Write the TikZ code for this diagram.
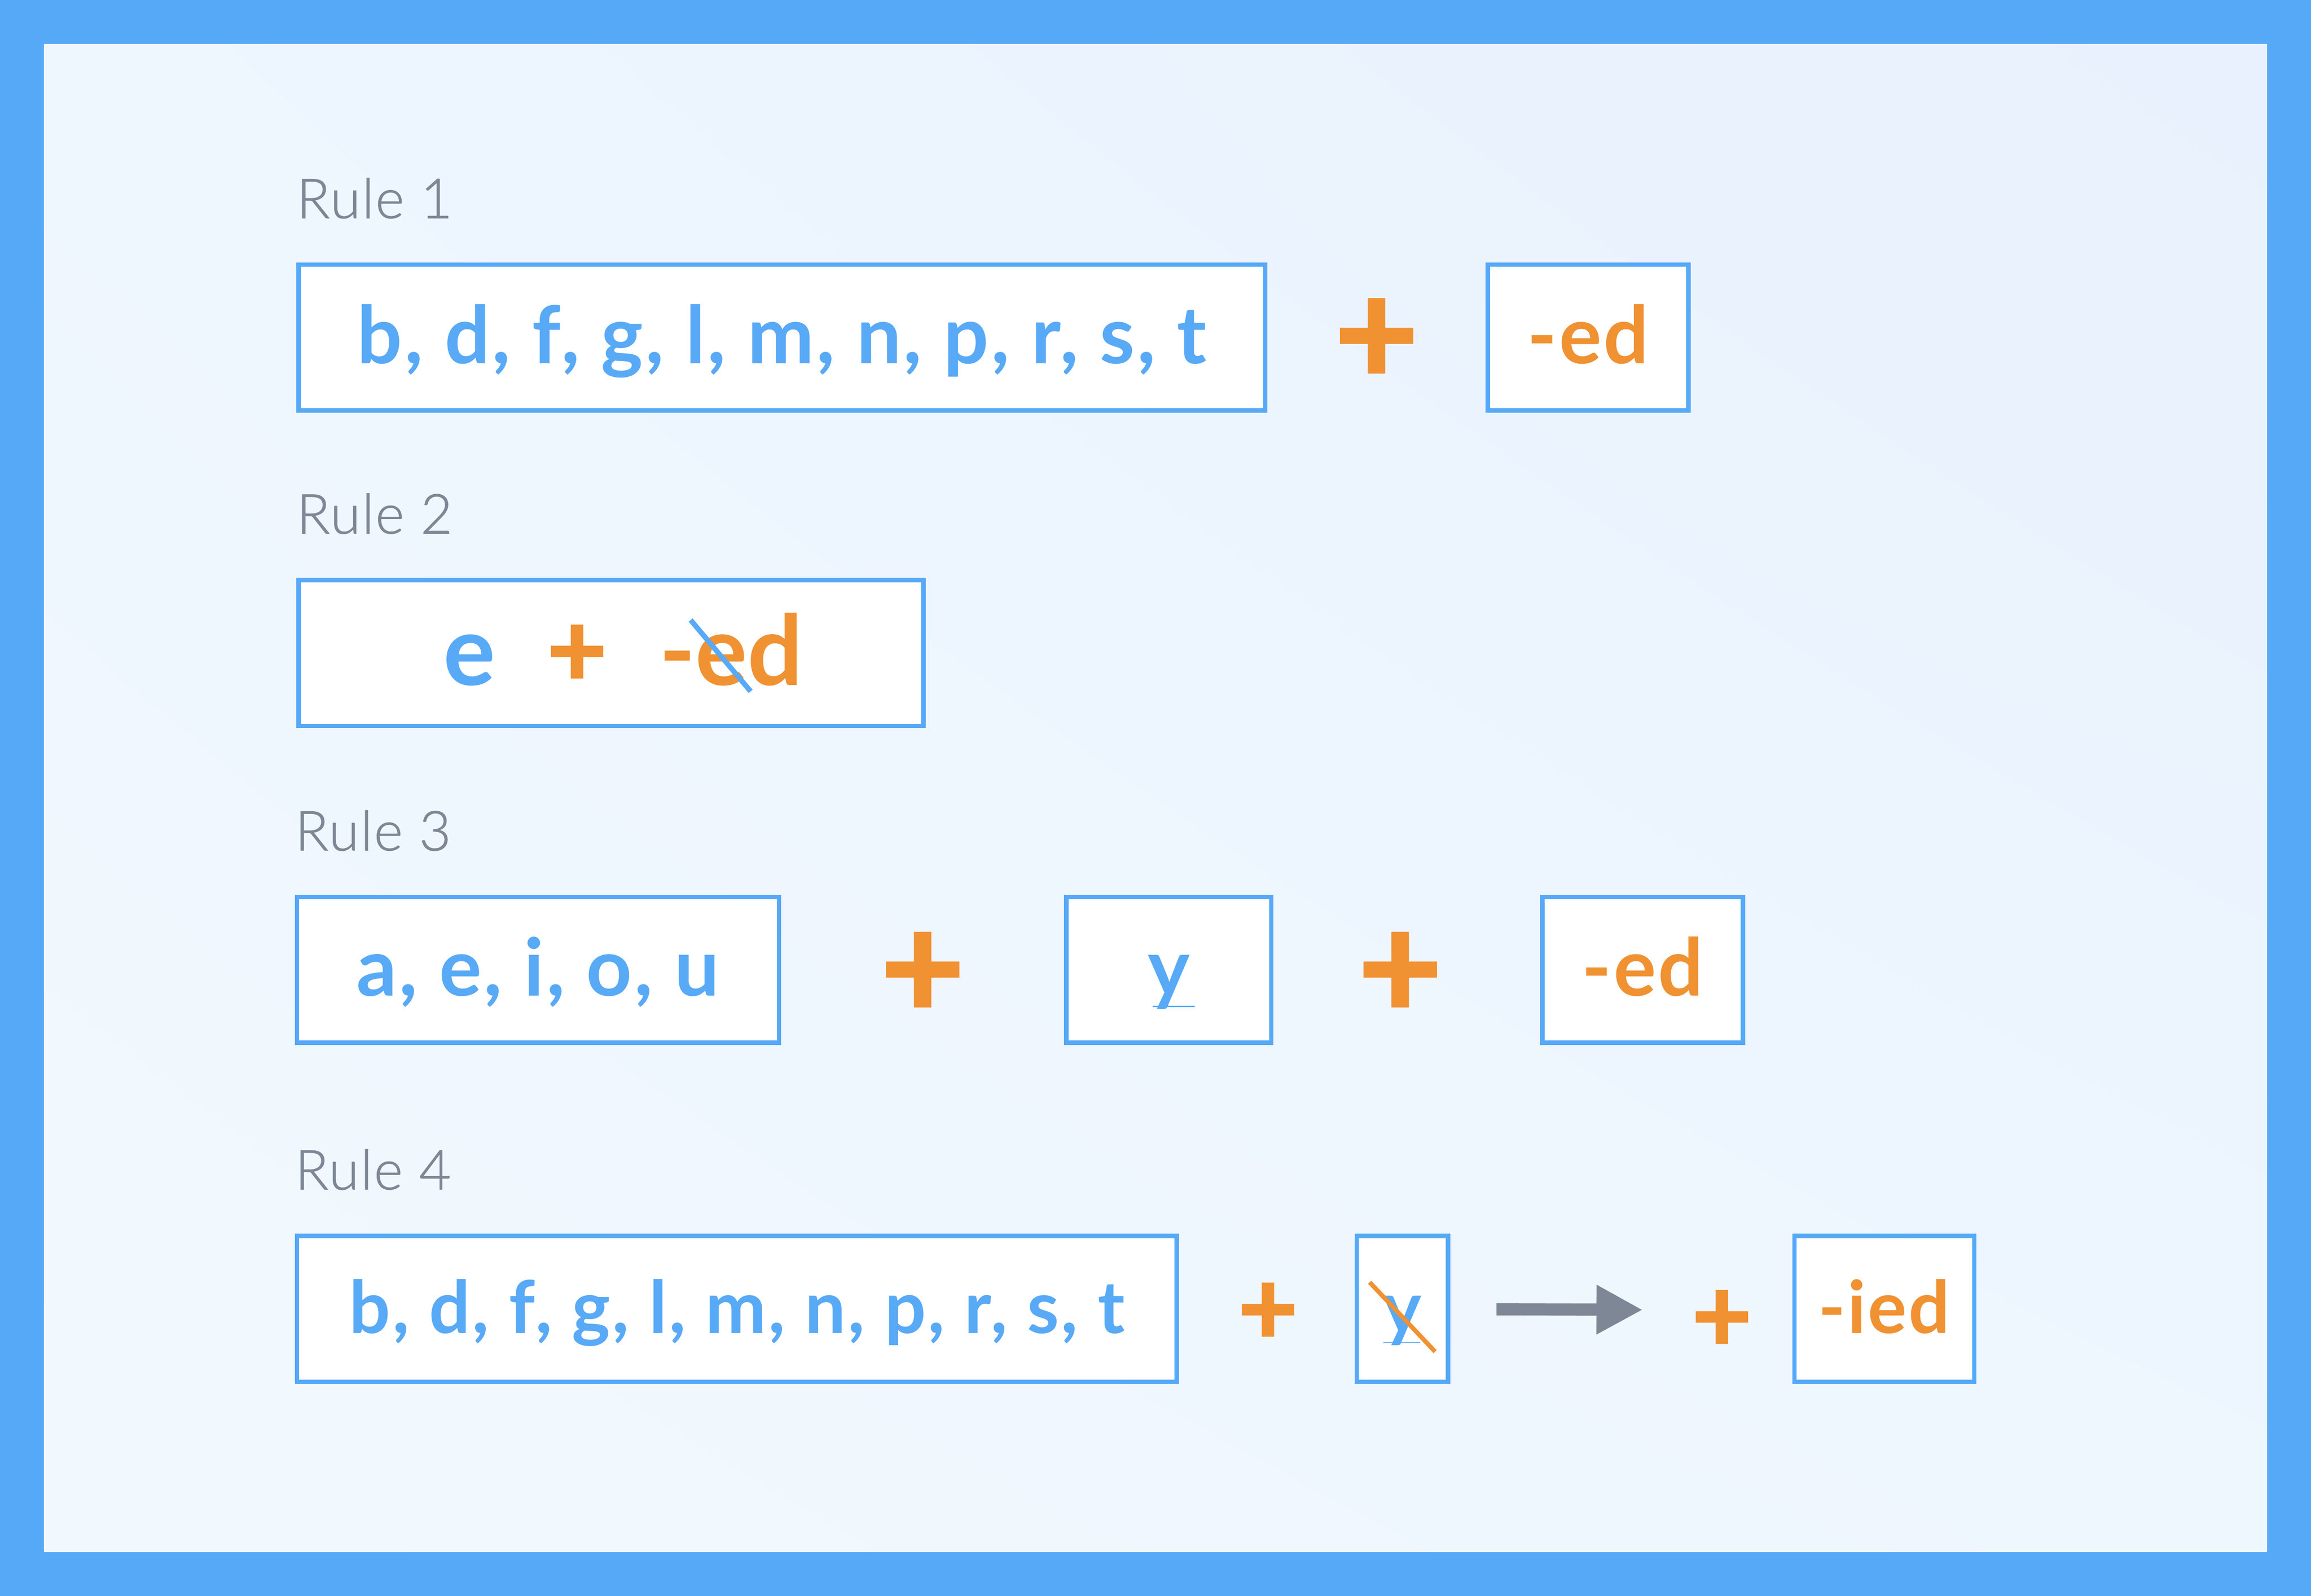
\documentclass[tikz,border=0pt]{standalone}
\usepackage{fontspec}
\setmainfont{Lato}
\newfontfamily\rulefont{Lato Light}[LetterSpace=2.5, FakeBold=1]
\newfontfamily\plusfont{Lato}[FakeBold=2]
\usetikzlibrary{%
    arrows.meta,
    positioning,
    shadings
}
\definecolor{frameblue}{HTML}{56A9F7}
\definecolor{letterblue}{HTML}{58A9F6}
\definecolor{endorange}{HTML}{F09132}
\definecolor{rulegray}{HTML}{7E8795}
\definecolor{bgtop}{HTML}{E8F1FD}
\definecolor{bgmid}{HTML}{EEF6FE}
\definecolor{bgbottom}{HTML}{F2F9FE}
\tikzset{rulebox/.style = {draw=frameblue, line width=3pt, fill=white, minimum height=99pt, inner sep=0pt,
    text height=35.4pt, text depth=0pt,
    font=\fontsize{54}{60}\selectfont\bfseries\addfontfeature{LetterSpace=2.7}}}
\tikzset{smallbox/.style = {rulebox, text height=33pt,
    font=\fontsize{49.3}{55}\selectfont\bfseries\addfontfeature{LetterSpace=2.7}}}
\tikzset{widebase/.style = {anchor=base, inner sep=0pt, font=\fontsize{66}{74}\selectfont\bfseries}}
\tikzset{rulelabel/.style = {text=rulegray, inner sep=0pt, font=\rulefont\fontsize{37.4}{44}\selectfont}}
\tikzset{bigplus/.style = {text=endorange, inner sep=0pt, font=\plusfont\fontsize{98}{100}\selectfont\bfseries}}
\tikzset{smallplus/.style = {bigplus, font=\plusfont\fontsize{70}{72}\selectfont\bfseries}}
\tikzset{strike/.style = {line width=3.5pt}}
\tikzset{flowarrow/.style = {rulegray, line width=8.3pt, -{Triangle[length=31.4pt, width=31.4pt]}}}

\begin{document}
\begin{tikzpicture}[x=1pt, y=-1pt]
    % frame and background
    \useasboundingbox (0,0) rectangle (1568,1082.8);
    \fill[frameblue] (0,0) rectangle (1568,1082.8);
    \shade[upper left=bgmid, upper right=bgtop, lower left=bgbottom, lower right=bgmid]
        (30,30) rectangle (1538,1053);

    % rule 1
    \node[rulebox, minimum width=656pt, text=letterblue] (L1) at (530.5,229) {b, d, f, g, l, m, n, p, r, s, t};
    \node[bigplus] (P1) at (934,232) {+};
    \node[rulebox, minimum width=136pt, text=endorange] (E1) [right=148pt of L1] {-ed};

    % rule 2
    \node[rulebox, minimum width=424pt] (L2) at (414.5,443) {};
    \node[widebase, text=letterblue] (L2-e) at (318.5,465) {e};
    \node[smallplus] (P2) at (391.5,445) {+};
    \node[widebase, text=endorange] (E2) at (496,465) {-ed};
    \draw[strike, letterblue] (468.6,420.7) -- (509.3,469.1);

    % rule 3
    \node[rulebox, minimum width=327pt, text=letterblue] (L3) at (365,658) {a, e, i, o, u};
    \node[bigplus] (P3) at (626,662) {+};
    \node[rulebox, minimum width=139pt, text=letterblue] (Y3) at (793,658) {y};
    \node[bigplus] (P3b) at (950,662) {+};
    \node[rulebox, minimum width=136pt, text=endorange] (E3) at (1114.5,658) {-ed};
    \draw[letterblue, line width=0.8pt] ([shift={(-11,24.8)}]Y3.center) -- ++(28.6,0);

    % rule 4
    \node[smallbox, minimum width=597pt, text=letterblue] (L4) at (500,888) {b, d, f, g, l, m, n, p, r, s, t};
    \node[smallplus] (P4) at (860.3,891.5) {+};
    \node[smallbox, minimum width=62pt, text=letterblue] (Y4) at (951.5,888) {y};
    \draw[letterblue, line width=0.8pt] ([shift={(-12.8,23)}]Y4.center) -- ++(25,0);
    \draw[strike, endorange, line width=3pt] (929.3,870) -- (973.7,917.1);
    \coordinate (tip) at (1114.6,888.7);
    \node[smallplus] (P4b) at (1168.3,896.5) {+};
    \node[smallbox, minimum width=122pt, text=endorange] (E4) at (1278.5,888) {-ied};
    \draw[flowarrow, shorten <=31.3pt] (Y4) -- (tip);

    % rule labels
    \foreach \Num in {1,2,3,4}
        \node[rulelabel] (R\Num) [above right=29.5pt and 0pt of L\Num.north west] {Rule \Num};
\end{tikzpicture}
\end{document}
